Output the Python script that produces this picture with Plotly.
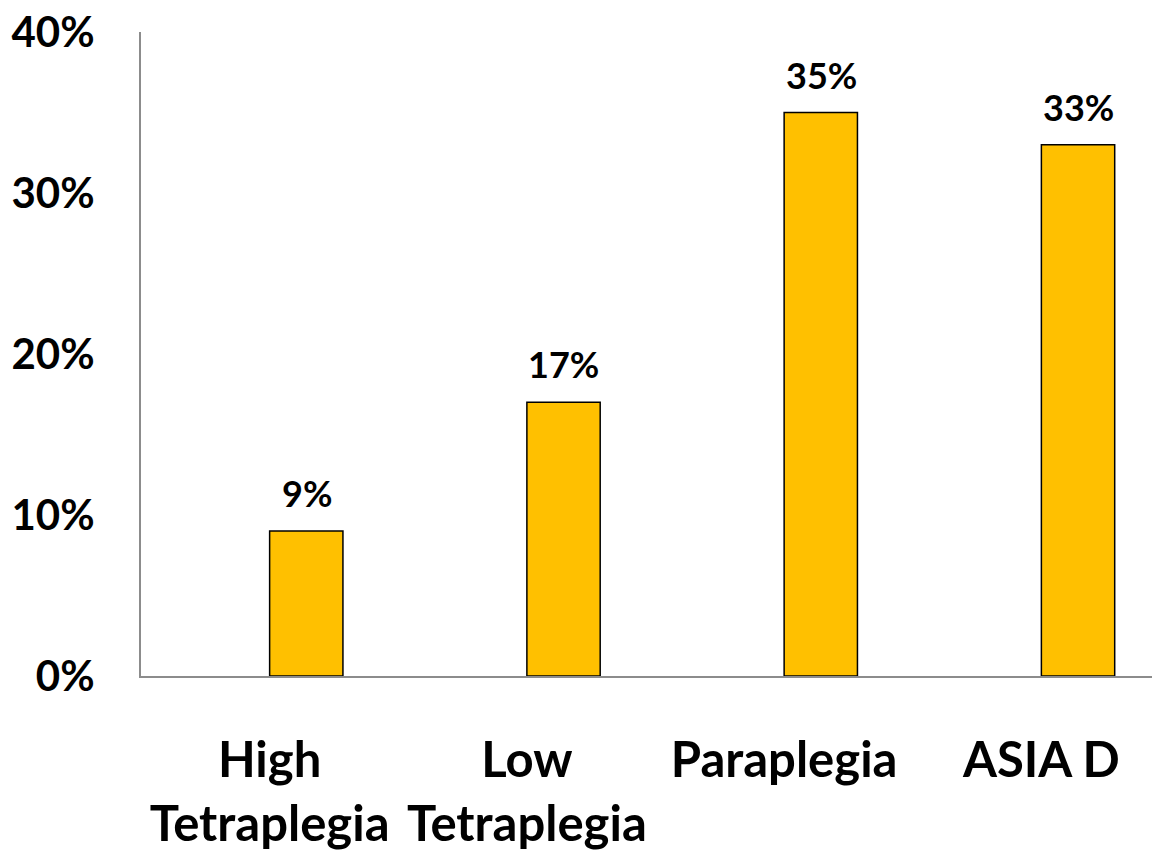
import plotly.graph_objects as go

categories = ["High<br>Tetraplegia", "Low<br>Tetraplegia", "Paraplegia", "ASIA D"]
values = [0.09, 0.17, 0.35, 0.33]
labels = ["9%", "17%", "35%", "33%"]
tick_vals = [0, 0.1, 0.2, 0.3, 0.4]
tick_text = ["0%", "10%", "20%", "30%", "40%"]

FONT = "Lato, Open Sans, sans-serif"

fig = go.Figure()
fig.add_trace(go.Bar(
    x=categories, y=values,
    width=0.285, offset=0,
    marker=dict(color="#FFC000", line=dict(color="#000000", width=1.5)),
    hoverinfo="skip",
))

for c, v, t in zip(categories, values, labels):
    fig.add_annotation(x=c, y=v, text=f"<b>{t}</b>", showarrow=False,
                       xref="x", yref="y", yanchor="bottom", xshift=37, yshift=14,
                       font=dict(family=FONT, size=36, color="#000000"))

fig.update_layout(
    width=1152, height=850,
    margin=dict(l=141, r=0, t=32, b=174, autoexpand=False),
    paper_bgcolor="white", plot_bgcolor="white",
    showlegend=False,
    font=dict(family=FONT, color="#000000"),
)
fig.update_xaxes(
    range=[-0.5, 3.43], automargin=False,
    showline=True, linecolor="#8c8c8c", linewidth=2,
    showgrid=False, ticks="", zeroline=False,
    tickfont=dict(family=FONT, size=49, color="#000000", weight="bold"),
    ticklabelstandoff=40,
)
fig.update_yaxes(
    range=[0, 0.4], tickvals=tick_vals, ticktext=tick_text, automargin=False,
    showline=True, linecolor="#8c8c8c", linewidth=2,
    showgrid=False, ticks="", zeroline=False,
    tickfont=dict(family=FONT, size=42, color="#000000", weight="bold"),
    ticklabelstandoff=36,
)

fig.write_html("out.html", config={"displayModeBar": False},
               post_script="document.body.style.margin='0';document.body.style.overflow='hidden';")
